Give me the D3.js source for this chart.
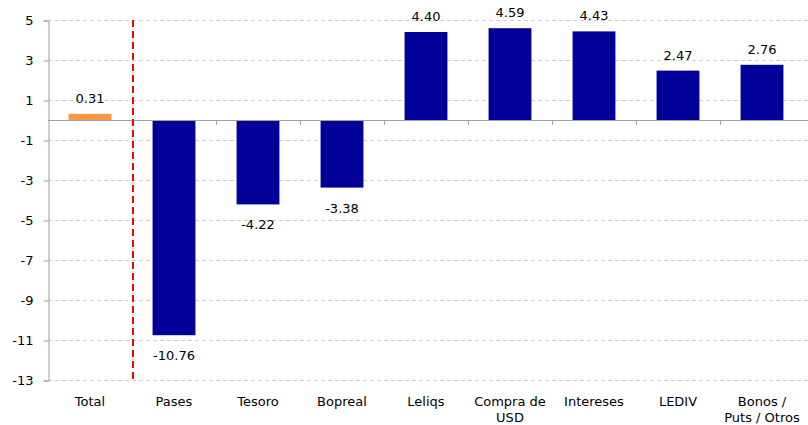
<!DOCTYPE html>
<html>
<head>
<meta charset="utf-8">
<script src="https://cdn.jsdelivr.net/npm/d3@7"></script>
<style>
  body { margin: 0; background: #fff; }
  svg text { font-family: "DejaVu Sans", Verdana, sans-serif; fill: #000; }
</style>
</head>
<body>
<svg id="chart" width="808" height="425"></svg>
<script>
// data
var categories = ["Total", "Pases", "Tesoro", "Bopreal", "Leliqs", "Compra de USD", "Intereses", "LEDIV", "Bonos / Puts / Otros"];
var labelLines = [["Total"], ["Pases"], ["Tesoro"], ["Bopreal"], ["Leliqs"], ["Compra de", "USD"], ["Intereses"], ["LEDIV"], ["Bonos /", "Puts / Otros"]];
var values = [0.31, -10.76, -4.22, -3.38, 4.40, 4.59, 4.43, 2.47, 2.76];
var yTicks = [5, 3, 1, -1, -3, -5, -7, -9, -11, -13];

var svg = d3.select("#chart");
var plotL = 48, plotR = 804, plotT = 20, plotB = 380;

var x = d3.scaleBand().domain(categories).range([plotL, plotR]).paddingInner(0.49).paddingOuter(0.245);
var xb = d3.scaleBand().domain(categories).range([plotL, plotR]); // full slots, for ticks
var y = d3.scaleLinear().domain([-13, 5]).range([plotB, plotT]);

// grid
svg.append("g").selectAll("line").data(yTicks).join("line")
    .attr("x1", plotL).attr("x2", 808)
    .attr("y1", function (d) { return y(d) + 0.5; }).attr("y2", function (d) { return y(d) + 0.5; })
    .attr("stroke", "#d0d0d0").attr("stroke-dasharray", "4,3");

// y axis
var yAxis = svg.append("g").attr("transform", "translate(" + (plotL + 0.5) + ",0.5)")
    .call(d3.axisLeft(y).tickValues(yTicks).tickSize(5).tickFormat(function (d) { return String(d); }));
yAxis.select(".domain").attr("stroke", "#a0a0a0");
yAxis.selectAll(".tick line").attr("stroke", "#a0a0a0");
yAxis.selectAll(".tick text").attr("x", -15).style("font-size", "13px").style("font-family", "DejaVu Sans");

// bars
svg.append("g").selectAll("rect").data(values).join("rect")
    .attr("x", function (d, i) { return x(categories[i]); })
    .attr("width", x.bandwidth())
    .attr("y", function (d) { return y(Math.max(0, d)); })
    .attr("height", function (d) { return Math.abs(y(d) - y(0)); })
    .attr("fill", function (d, i) { return i === 0 ? "#f79646" : "#000099"; });

// zero line and category ticks
svg.append("line").attr("x1", plotL).attr("x2", 808)
    .attr("y1", y(0) + 0.5).attr("y2", y(0) + 0.5).attr("stroke", "#a0a0a0");
svg.append("g").selectAll("line").data(categories.slice(1)).join("line")
    .attr("x1", function (d) { return Math.round(xb(d)) + 0.5; })
    .attr("x2", function (d) { return Math.round(xb(d)) + 0.5; })
    .attr("y1", y(0)).attr("y2", y(0) + 5).attr("stroke", "#a0a0a0");

// red dashed separator
svg.append("line")
    .attr("x1", xb("Pases") + 1).attr("x2", xb("Pases") + 1)
    .attr("y1", plotT).attr("y2", plotB)
    .attr("stroke", "#ff0000").attr("stroke-width", 2).attr("stroke-dasharray", "7,4");

// value labels
svg.append("g").selectAll("text").data(values).join("text")
    .attr("x", function (d, i) { return x(categories[i]) + x.bandwidth() / 2; })
    .attr("y", function (d) { return d >= 0 ? y(d) - 11 : y(d) + 25; })
    .attr("text-anchor", "middle").style("font-size", "13px")
    .text(function (d) { return d.toFixed(2); });

// category labels
var xl = svg.append("g").selectAll("text").data(labelLines).join("text")
    .attr("x", function (d, i) { return xb(categories[i]) + xb.bandwidth() / 2; })
    .attr("y", 406).attr("text-anchor", "middle").style("font-size", "13px");
xl.selectAll("tspan").data(function (d) { return d; }).join("tspan")
    .attr("x", function () { return d3.select(this.parentNode).attr("x"); })
    .attr("dy", function (d, i) { return i === 0 ? 0 : 16; })
    .text(function (d) { return d; });
</script>
</body>
</html>
